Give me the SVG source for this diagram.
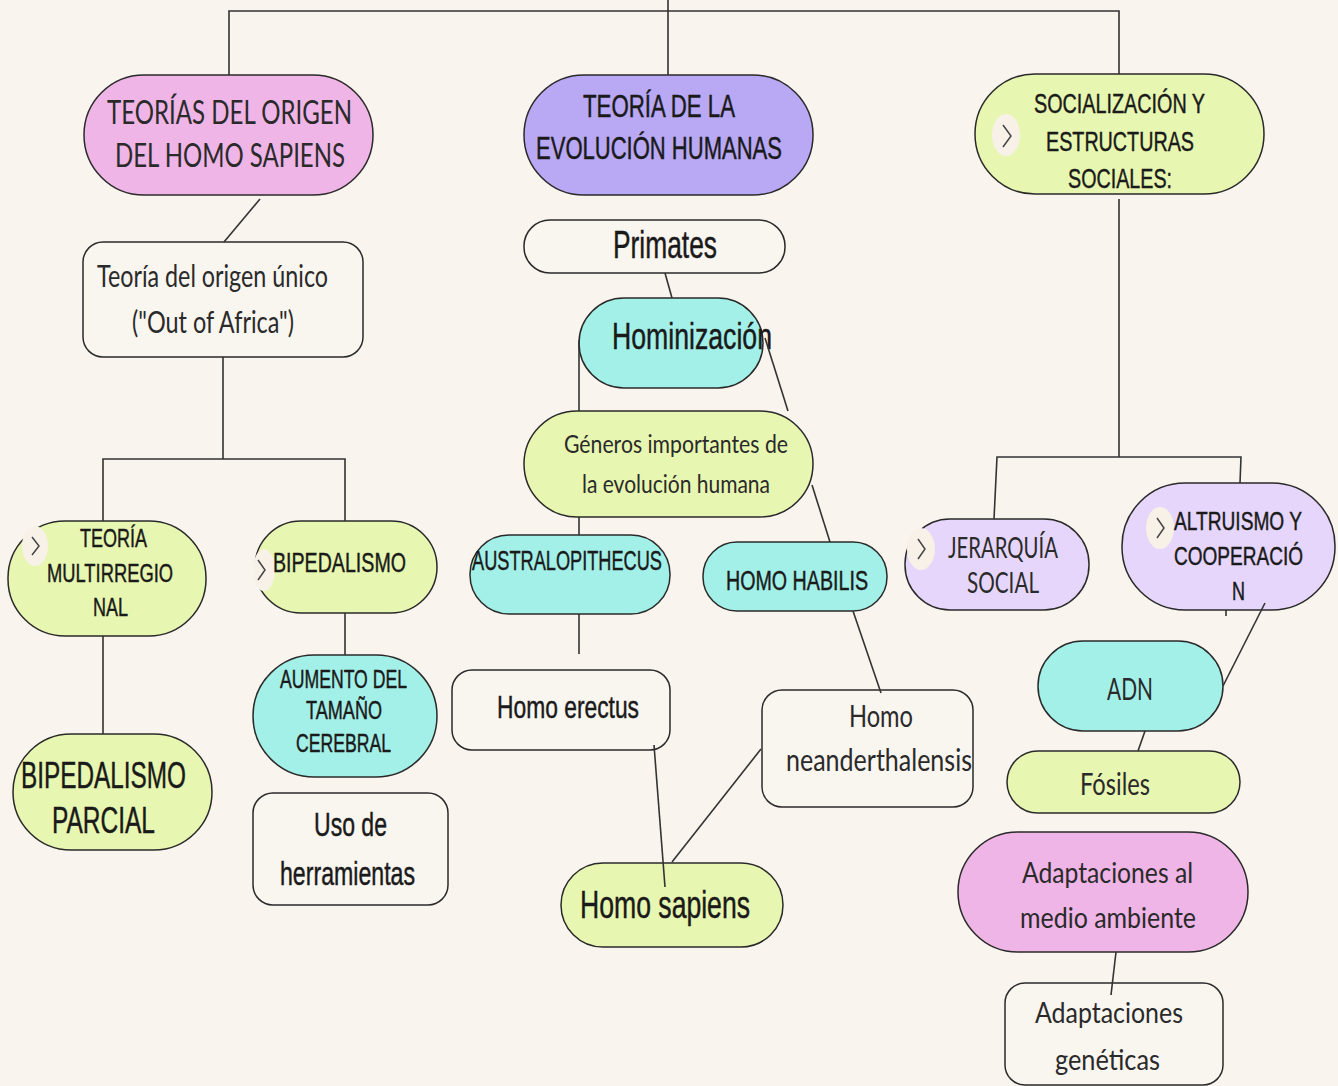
<svg xmlns="http://www.w3.org/2000/svg" width="1338" height="1086" viewBox="0 0 1338 1086">
<style>
.n{stroke:#2a2a2a;stroke-width:1.5}
.pink{fill:#efb5e6}.purp{fill:#b9a8f4}.grn{fill:#e7f6b0}.cyan{fill:#a3f0e8}.lav{fill:#e6d6fb}.wht{fill:#f9f5ef}
.a{font-family:"Liberation Sans",Arial,sans-serif;fill:#1a1a1a;stroke:#1a1a1a;stroke-width:0.45}
.l{font-family:Lato,"Liberation Sans",sans-serif;fill:#2a2a2a}
.c line,.c polyline{stroke:#333;stroke-width:1.6;fill:none}
.chev ellipse{fill:#f7f1e8}
.chev polyline{fill:none;stroke:#444;stroke-width:1.5}
</style>
<rect width="1338" height="1086" fill="#f9f4ee"/>

<g id="n-teorias-origen">
<rect class="n pink" x="84" y="75" width="289" height="120" rx="60"/>
<text class="l" x="107" y="124" font-size="33" textLength="245" lengthAdjust="spacingAndGlyphs">TEORÍAS DEL ORIGEN</text>
<text class="l" x="115" y="167" font-size="33" textLength="230" lengthAdjust="spacingAndGlyphs">DEL HOMO SAPIENS</text>
</g>
<g id="n-teoria-evolucion">
<rect class="n purp" x="524" y="75" width="289" height="120" rx="60"/>
<text class="a" x="583" y="117" font-size="31" textLength="152" lengthAdjust="spacingAndGlyphs">TEORÍA DE LA</text>
<text class="a" x="536" y="159" font-size="31" textLength="246" lengthAdjust="spacingAndGlyphs">EVOLUCIÓN HUMANAS</text>
</g>
<g id="n-socializacion">
<rect class="n grn" x="975" y="74" width="289" height="120" rx="60"/>
<g class="chev"><ellipse cx="1006" cy="135" rx="14" ry="21"/><polyline points="1003,125 1011,136 1003,147"/></g>
<text class="a" x="1034" y="113" font-size="28" textLength="171" lengthAdjust="spacingAndGlyphs">SOCIALIZACIÓN Y</text>
<text class="a" x="1046" y="151" font-size="28" textLength="148" lengthAdjust="spacingAndGlyphs">ESTRUCTURAS</text>
<text class="a" x="1068" y="188" font-size="28" textLength="104" lengthAdjust="spacingAndGlyphs">SOCIALES:</text>
</g>
<g id="n-origen-unico">
<rect class="n wht" x="83" y="242" width="280" height="115" rx="20"/>
<text class="l" x="97" y="287" font-size="30" textLength="231" lengthAdjust="spacingAndGlyphs">Teoría del origen único</text>
<text class="l" x="132" y="333" font-size="30" textLength="162" lengthAdjust="spacingAndGlyphs">("Out of Africa")</text>
</g>
<g id="n-multirregional">
<rect class="n grn" x="8" y="521" width="198" height="115" rx="57"/>
<g class="chev"><ellipse cx="35" cy="546" rx="13" ry="20"/><polyline points="32,537 39,546 32,555"/></g>
<text class="a" x="80" y="547" font-size="25" textLength="67" lengthAdjust="spacingAndGlyphs">TEORÍA</text>
<text class="a" x="47" y="582" font-size="25" textLength="126" lengthAdjust="spacingAndGlyphs">MULTIRREGIO</text>
<text class="a" x="93" y="616" font-size="25" textLength="35" lengthAdjust="spacingAndGlyphs">NAL</text>
</g>
<g id="n-bipedalismo">
<rect class="n grn" x="255" y="521" width="182" height="92" rx="46"/>
<g class="chev"><ellipse cx="264" cy="570" rx="11" ry="21"/><polyline points="258,560 265,570 258,580"/></g>
<text class="a" x="273" y="572" font-size="28" textLength="133" lengthAdjust="spacingAndGlyphs">BIPEDALISMO</text>
</g>
<g id="n-bipedalismo-parcial">
<rect class="n grn" x="13" y="734" width="199" height="116" rx="58"/>
<text class="a" x="21" y="788" font-size="36" textLength="165" lengthAdjust="spacingAndGlyphs">BIPEDALISMO</text>
<text class="a" x="52" y="833" font-size="36" textLength="103" lengthAdjust="spacingAndGlyphs">PARCIAL</text>
</g>
<g id="n-aumento">
<rect class="n cyan" x="253" y="655" width="184" height="122" rx="61"/>
<text class="a" x="280" y="688" font-size="25" textLength="127" lengthAdjust="spacingAndGlyphs">AUMENTO DEL</text>
<text class="a" x="306" y="719" font-size="25" textLength="76" lengthAdjust="spacingAndGlyphs">TAMAÑO</text>
<text class="a" x="296" y="752" font-size="25" textLength="95" lengthAdjust="spacingAndGlyphs">CEREBRAL</text>
</g>
<g id="n-herramientas">
<rect class="n wht" x="253" y="793" width="195" height="112" rx="20"/>
<text class="a" x="314" y="836" font-size="33" textLength="73" lengthAdjust="spacingAndGlyphs">Uso de</text>
<text class="a" x="280" y="885" font-size="33" textLength="135" lengthAdjust="spacingAndGlyphs">herramientas</text>
</g>
<g id="n-primates">
<rect class="n wht" x="524" y="220" width="261" height="53" rx="26"/>
<text class="a" x="613" y="258" font-size="38" textLength="104" lengthAdjust="spacingAndGlyphs">Primates</text>
</g>
<g id="n-hominizacion">
<rect class="n cyan" x="579" y="298" width="184" height="90" rx="45"/>
<text class="a" x="612" y="349" font-size="36" textLength="160" lengthAdjust="spacingAndGlyphs">Hominización</text>
</g>
<g id="n-generos">
<rect class="n grn" x="524" y="411" width="289" height="106" rx="53"/>
<text class="l" x="564" y="453" font-size="25" textLength="224" lengthAdjust="spacingAndGlyphs">Géneros importantes de</text>
<text class="l" x="582" y="493" font-size="25" textLength="188" lengthAdjust="spacingAndGlyphs">la evolución humana</text>
</g>
<g id="n-australopithecus">
<rect class="n cyan" x="470" y="535" width="200" height="79" rx="39"/>
<text class="a" x="472" y="570" font-size="28" textLength="190" lengthAdjust="spacingAndGlyphs">AUSTRALOPITHECUS</text>
</g>
<g id="n-habilis">
<rect class="n cyan" x="703" y="542" width="184" height="69" rx="34"/>
<text class="a" x="726" y="590" font-size="28" textLength="142" lengthAdjust="spacingAndGlyphs">HOMO HABILIS</text>
</g>
<g id="n-erectus">
<rect class="n wht" x="452" y="670" width="218" height="80" rx="20"/>
<text class="a" x="497" y="718" font-size="32" textLength="142" lengthAdjust="spacingAndGlyphs">Homo erectus</text>
</g>
<g id="n-neanderthalensis">
<rect class="n wht" x="762" y="690" width="211" height="117" rx="20"/>
<text class="l" x="849" y="727" font-size="30" textLength="64" lengthAdjust="spacingAndGlyphs">Homo</text>
<text class="l" x="786" y="771" font-size="30" textLength="186" lengthAdjust="spacingAndGlyphs">neanderthalensis</text>
</g>
<g id="n-sapiens">
<rect class="n grn" x="561" y="863" width="222" height="84" rx="42"/>
<text class="a" x="580" y="918" font-size="38" textLength="170" lengthAdjust="spacingAndGlyphs">Homo sapiens</text>
</g>
<g id="n-jerarquia">
<rect class="n lav" x="905" y="519" width="184" height="91" rx="45"/>
<g class="chev"><ellipse cx="921" cy="549" rx="14" ry="21"/><polyline points="918,539 925,549 918,559"/></g>
<text class="l" x="948" y="558" font-size="29" textLength="110" lengthAdjust="spacingAndGlyphs">JERARQUÍA</text>
<text class="l" x="967" y="593" font-size="29" textLength="72" lengthAdjust="spacingAndGlyphs">SOCIAL</text>
</g>
<g id="n-altruismo">
<rect class="n lav" x="1122" y="483" width="213" height="127" rx="63"/>
<g class="chev"><ellipse cx="1160" cy="528" rx="14" ry="21"/><polyline points="1157,518 1164,528 1157,538"/></g>
<text class="a" x="1174" y="530" font-size="25" textLength="128" lengthAdjust="spacingAndGlyphs">ALTRUISMO Y</text>
<text class="a" x="1174" y="565" font-size="25" textLength="129" lengthAdjust="spacingAndGlyphs">COOPERACIÓ</text>
<text class="a" x="1232" y="600" font-size="25" textLength="13" lengthAdjust="spacingAndGlyphs">N</text>
</g>
<g id="n-adn">
<rect class="n cyan" x="1038" y="641" width="185" height="90" rx="45"/>
<text class="l" x="1107" y="700" font-size="30" textLength="46" lengthAdjust="spacingAndGlyphs">ADN</text>
</g>
<g id="n-fosiles">
<rect class="n grn" x="1007" y="751" width="233" height="62" rx="31"/>
<text class="l" x="1080" y="795" font-size="31" textLength="70" lengthAdjust="spacingAndGlyphs">Fósiles</text>
</g>
<g id="n-adaptaciones-medio">
<rect class="n pink" x="958" y="832" width="290" height="120" rx="60"/>
<text class="l" x="1022" y="883" font-size="29" textLength="171" lengthAdjust="spacingAndGlyphs">Adaptaciones al</text>
<text class="l" x="1020" y="928" font-size="29" textLength="176" lengthAdjust="spacingAndGlyphs">medio ambiente</text>
</g>
<g id="n-adaptaciones-geneticas">
<rect class="n wht" x="1005" y="983" width="218" height="102" rx="20"/>
<text class="l" x="1035" y="1023" font-size="29" textLength="148" lengthAdjust="spacingAndGlyphs">Adaptaciones</text>
<text class="l" x="1055" y="1070" font-size="29" textLength="105" lengthAdjust="spacingAndGlyphs">genéticas</text>
</g>

<g id="connectors" class="c">
<polyline points="229,75 229,11 1119,11 1119,74"/>
<line x1="668" y1="0" x2="668" y2="75"/>
<line x1="260" y1="199" x2="224" y2="242"/>
<line x1="223" y1="357" x2="223" y2="459"/>
<polyline points="103,521 103,459 345,459 345,521"/>
<line x1="103" y1="636" x2="103" y2="734"/>
<line x1="345" y1="613" x2="345" y2="655"/>
<line x1="665" y1="273" x2="672" y2="298"/>
<line x1="579" y1="340" x2="579" y2="411"/>
<line x1="765" y1="338" x2="788" y2="411"/>
<line x1="812" y1="485" x2="830" y2="542"/>
<line x1="579" y1="517" x2="579" y2="535"/>
<line x1="579" y1="614" x2="579" y2="654"/>
<line x1="853" y1="611" x2="881" y2="693"/>
<line x1="654" y1="745" x2="665" y2="887"/>
<line x1="672" y1="862" x2="761" y2="749"/>
<line x1="1119" y1="199" x2="1119" y2="457"/>
<polyline points="994,519 997,457 1241,457 1240,483"/>
<line x1="1226" y1="610" x2="1226" y2="616"/>
<line x1="1265" y1="603" x2="1223" y2="686"/>
<line x1="1145" y1="731" x2="1138" y2="751"/>
<line x1="1116" y1="952" x2="1111" y2="995"/>
</g>
</svg>
